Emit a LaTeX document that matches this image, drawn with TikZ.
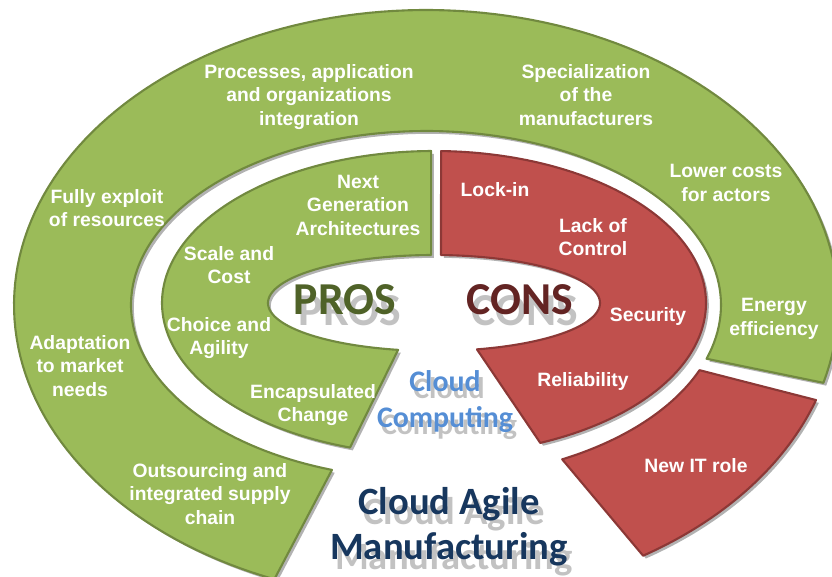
\documentclass[tikz,border=0pt]{standalone}
\usepackage{fontspec}
\setmainfont{Liberation Sans}
\newfontfamily\calib{Carlito}
\usetikzlibrary{shadows}
\definecolor{gfill}{HTML}{9BBB59}
\definecolor{gline}{HTML}{71893F}
\definecolor{rfill}{HTML}{C0504D}
\definecolor{rline}{HTML}{8C3836}
\definecolor{prosc}{HTML}{4F6228}
\definecolor{consc}{HTML}{632423}
\definecolor{ccblue}{HTML}{558ED5}
\definecolor{navyc}{HTML}{17375E}
\tikzset{
  sh/.style={drop shadow={shadow xshift=1.6pt, shadow yshift=-1.6pt, opacity=0.3, fill=black}},
  greenarc/.style={fill=gfill, draw=gline, line width=1.2pt, line join=round, sh},
  redarc/.style={fill=rfill, draw=rline, line width=1.2pt, line join=round, sh},
  lbl/.style={text=white, font=\bfseries\fontsize{11}{13.4}\selectfont, align=center, inner sep=0pt},
  ttl/.style={font=\calib\bfseries\fontsize{26}{30}\selectfont, inner sep=0pt},
  cc/.style={font=\calib\bfseries\fontsize{17}{20.5}\selectfont, align=center, inner sep=0pt},
  cam/.style={font=\calib\bfseries\fontsize{22}{25.5}\selectfont, align=center, inner sep=0pt},
  ghost/.style={text=black!60, opacity=0.4}
}
\begin{document}
\begin{tikzpicture}[x=0.02cm, y=-0.02cm]
\useasboundingbox (0,0) rectangle (832,577);
\clip (0,0) rectangle (832,577);
% outer ring
\path[greenarc] plot[domain=-15.3:248.4, samples=150] ({426+412*cos(\x)},{305-295*sin(\x)})
  -- plot[domain=251.4:-18, samples=150] ({426+295*cos(\x)},{305-174*sin(\x)}) -- cycle;
\path[redarc] plot[domain=-18.8:-58.2, samples=60] ({426+412*cos(\x)},{305-295*sin(\x)})
  -- plot[domain=-62.5:-22, samples=60] ({426+295*cos(\x)},{305-174*sin(\x)}) -- cycle;
% inner ring
\path[greenarc] plot[domain=90.6:252, samples=120] ({434+272*cos(\x)},{303-152*sin(\x)})
  -- plot[domain=257.5:91, samples=120] ({434+166*cos(\x)},{303-48*sin(\x)}) -- cycle;
\path[redarc] plot[domain=88.5:-67, samples=120] ({434+272*cos(\x)},{303-152*sin(\x)})
  -- plot[domain=-75:87.6, samples=120] ({434+166*cos(\x)},{303-48*sin(\x)}) -- cycle;
% outer ring labels
\node[lbl] (proc) at (309,97) {Processes, application\\and organizations\\integration};
\node[lbl] (spec) at (586,95) {Specialization\\of the\\manufacturers};
\node[lbl] (lower) at (726,183) {Lower costs\\for actors};
\node[lbl] (fully) at (107,208) {Fully exploit\\of resources};
\node[lbl] (adapt) at (80,366) {Adaptation\\to market\\needs};
\node[lbl] (outs) at (210,494) {Outsourcing and\\integrated supply\\chain};
\node[lbl] (energy) at (774,319) {Energy\\efficiency};
\node[lbl] (newit) at (696,466) {New IT role};
% inner ring labels
\node[lbl] (next) at (358,205) {Next\\Generation\\Architectures};
\node[lbl] (scale) at (229,265) {Scale and\\Cost};
\node[lbl] (choice) at (219,338) {Choice and\\Agility};
\node[lbl] (encap) at (313,405) {Encapsulated\\Change};
\node[lbl] (lock) at (495,190) {Lock-in};
\node[lbl] (lack) at (593,237) {Lack of\\Control};
\node[lbl] (secur) at (648,317) {Security};
\node[lbl] (relia) at (583,382) {Reliability};
% titles with shadows
\node[ttl, ghost] (prosg) at (350,311) {PROS};
\node[ttl, text=prosc] (pros) at (345,300) {PROS};
\node[ttl, ghost] (consg) at (525,311) {CONS};
\node[ttl, text=consc] (cons) at (520,300) {CONS};
\node[cc, ghost] (ccg) at (449,409) {Cloud\\Computing};
\node[cc, text=ccblue] (ccomp) at (445,402) {Cloud\\Computing};
\node[cam, ghost] (camg) at (454,537) {Cloud Agile\\Manufacturing};
\node[cam, text=navyc] (cam) at (449,527) {Cloud Agile\\Manufacturing};
\end{tikzpicture}
\end{document}
